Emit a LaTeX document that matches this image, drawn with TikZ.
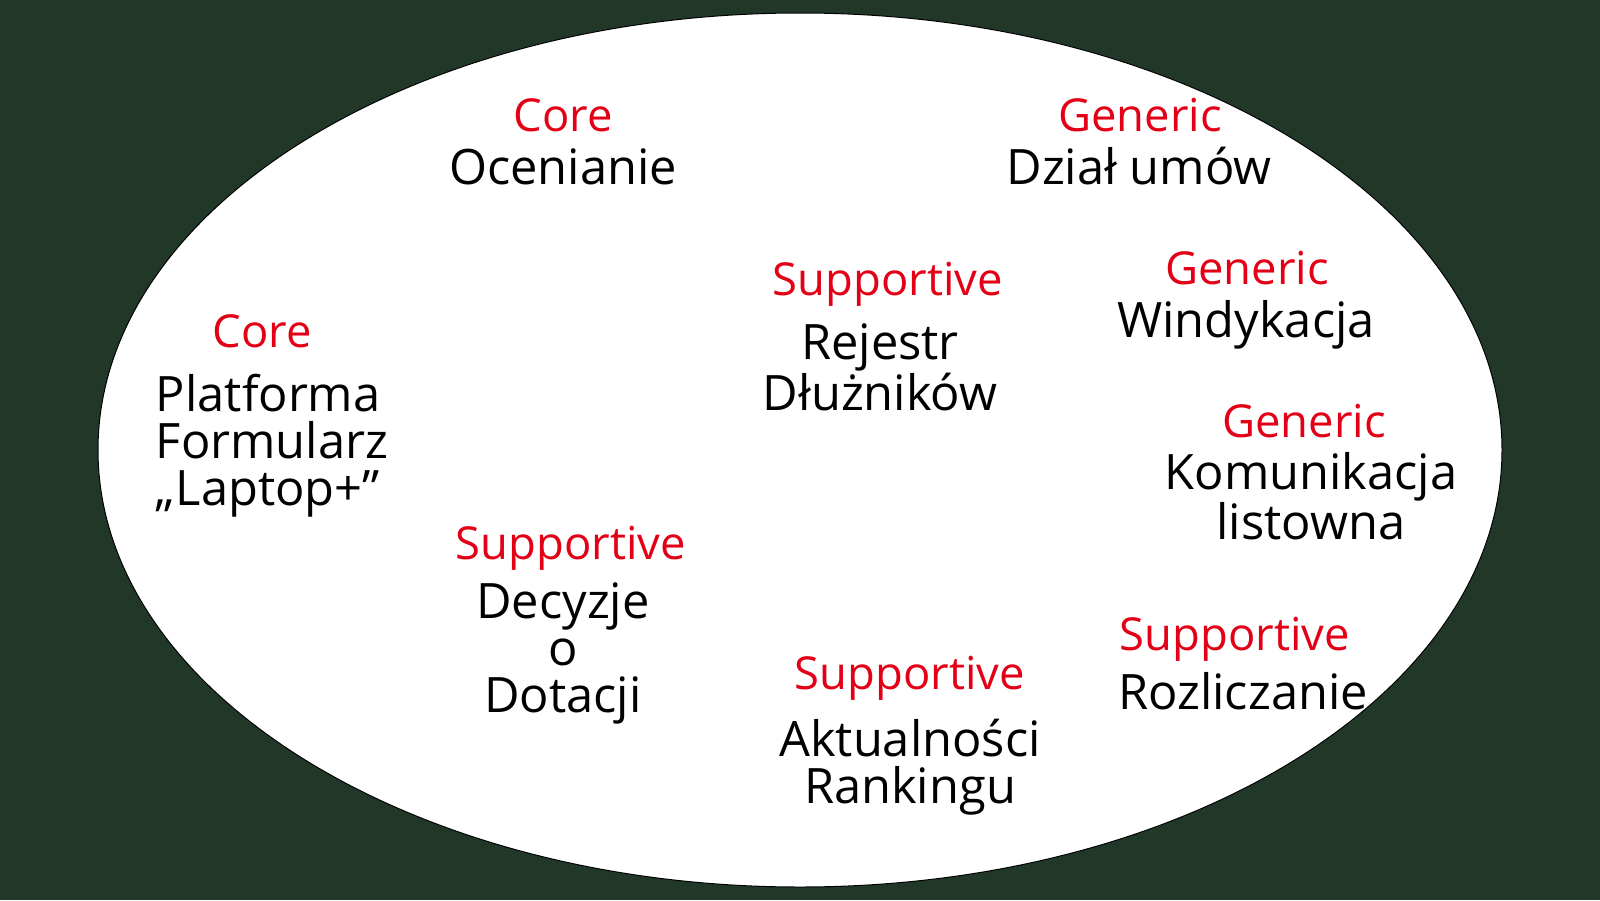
\documentclass[tikz,border=0pt]{standalone}
\usepackage{fontspec}
\setmainfont{Open Sans}
\definecolor{bgdark}{RGB}{33,56,41}
\definecolor{kindred}{RGB}{227,0,22}
\begin{document}
\begin{tikzpicture}[x=1pt,y=-1pt,
  kind/.style={inner sep=0pt,anchor=base,text=kindred,font=\fontsize{45.4}{45}\selectfont},
  area/.style={inner sep=0pt,anchor=base,text=black,align=center,font=\fontsize{48.8}{47}\selectfont}]
  \useasboundingbox (0,0) rectangle (1600,900);
  \fill[bgdark] (0,0) rectangle (1600,900);
  \draw[fill=white,draw=black,line width=1pt] (800,450) ellipse [x radius=702,y radius=437];

  % core domains (multi-line nodes are placed by the baseline of their last line)
  \node[kind] (k1) at (563,131) {Core};
  \node[area] (a1) at (563,184) {Ocenianie};
  \node[kind] (k2) at (262,347) {Core};
  \node[area,align=left] (a2) at (272,505) {Platforma\\Formularz\\„Laptop+”};

  % generic domains
  \node[kind] (k3) at (1140,131) {Generic};
  \node[area] (a3) at (1139,184) {Dział umów};
  \node[kind] (k4) at (1247,284) {Generic};
  \node[area] (a4) at (1246,337) {Windykacja};
  \node[kind] (k5) at (1304,437) {Generic};
  \node[area] (a5) at (1311,539) {Komunikacja\\listowna};

  % supportive domains
  \node[kind] (k6) at (888,295) {Supportive};
  \node[area] (a6) at (880,410) {Rejestr\\Dłużników};
  \node[kind] (k7) at (571,559) {Supportive};
  \node[area] (a7) at (563,712) {Decyzje\\o\\Dotacji};
  \node[kind] (k8) at (1235,650) {Supportive};
  \node[area] (a8) at (1243,709) {Rozliczanie};
  \node[kind] (k9) at (910,689) {Supportive};
  \node[area] (a9) at (910,803) {Aktualności\\Rankingu};
\end{tikzpicture}
\end{document}
